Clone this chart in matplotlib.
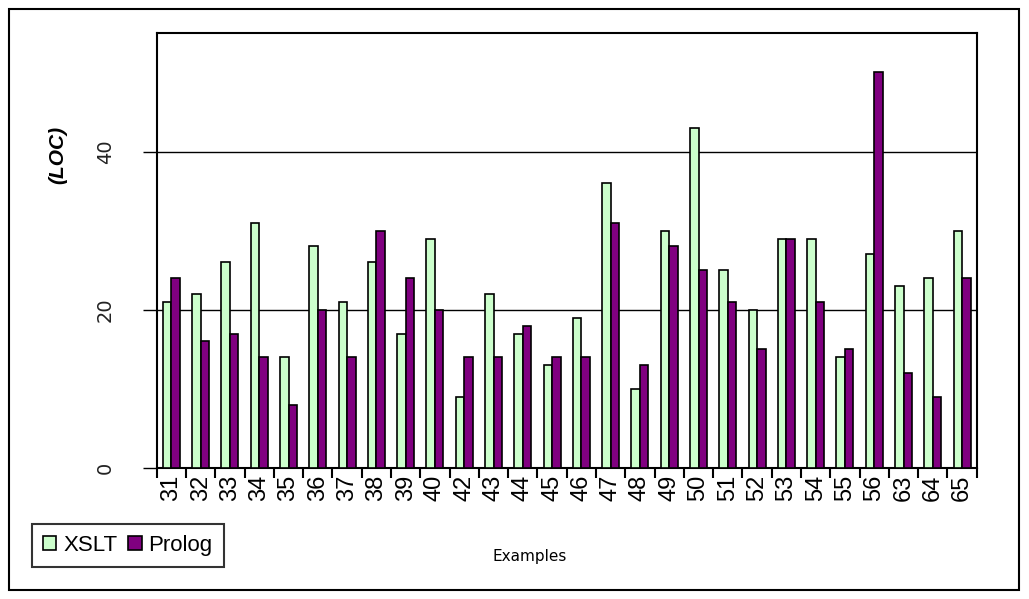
import numpy as np
import matplotlib.pyplot as plt
from matplotlib.patches import Rectangle

examples = ["31", "32", "33", "34", "35", "36", "37", "38", "39", "40",
            "42", "43", "44", "45", "46", "47", "48", "49", "50", "51",
            "52", "53", "54", "55", "56", "63", "64", "65"]
xslt = [21, 22, 26, 31, 14, 28, 21, 26, 17, 29,
        9, 22, 17, 13, 19, 36, 10, 30, 43, 25,
        20, 29, 29, 14, 27, 23, 24, 30]
prolog = [24, 16, 17, 14, 8, 20, 14, 30, 24, 20,
          14, 14, 18, 14, 14, 31, 13, 28, 25, 21,
          15, 29, 21, 15, 50, 12, 9, 24]

fig = plt.figure(figsize=(10.29, 5.99), dpi=100)
ax = fig.add_axes([0.1523, 0.2187, 0.7969, 0.7264])

x = np.arange(len(examples))
w = 0.29
ax.bar(x - w / 2, xslt, w, color="#CCFFCC", edgecolor="black", linewidth=1.2,
       label="XSLT", zorder=3)
ax.bar(x + w / 2, prolog, w, color="#800080", edgecolor="black", linewidth=1.2,
       label="Prolog", zorder=3)

ax.set_xlim(-0.5, len(examples) - 0.5)
ax.set_ylim(0, 55)
ax.set_yticks([0, 20, 40])
ax.yaxis.grid(True, color="black", linewidth=1)
ax.set_axisbelow(True)
for s in ax.spines.values():
    s.set_linewidth(1.5)

ax.set_xticks(x)
ax.set_xticklabels(examples, rotation=90, fontsize=17, family="Liberation Sans")
ax.set_xticks(np.arange(len(examples) + 1) - 0.5, minor=True)
ax.tick_params(axis="x", which="major", length=0, pad=5)
ax.tick_params(axis="x", which="minor", length=7, width=1.5, direction="out")
ax.tick_params(axis="y", length=10, width=1, direction="out", pad=20)
for t in ax.get_yticklabels():
    t.set_rotation(90)
    t.set_fontsize(14)
    t.set_verticalalignment("center")
    t.set_family("DejaVu Sans")
    t.set_color("#222222")

fig.text(58 / 1029, 1 - 155 / 599, "(LOC)", rotation=90, fontsize=15,
         style="italic", weight="bold", family="Liberation Sans",
         ha="center", va="center")
fig.text(530 / 1029, 1 - 557 / 599, "Examples", fontsize=11,
         family="DejaVu Sans", ha="center", va="center")

leg = fig.legend(loc="lower left", bbox_to_anchor=(32 / 1029, 1 - 567 / 599),
                 ncol=2, frameon=True, fancybox=False, edgecolor="black",
                 prop={"family": "Liberation Sans", "size": 16},
                 handlelength=0.6, handleheight=0.6, handletextpad=0.3,
                 columnspacing=0.5, borderpad=0.5, borderaxespad=0)
leg.get_frame().set_linewidth(1.5)

fig.patches.append(Rectangle((8.7 / 1029, 1 - 590 / 599), (1019.3 - 8.7) / 1029,
                             (590 - 9.3) / 599, transform=fig.transFigure,
                             fill=False, edgecolor="black", linewidth=1.5))

fig.savefig("out.png", dpi=100)
